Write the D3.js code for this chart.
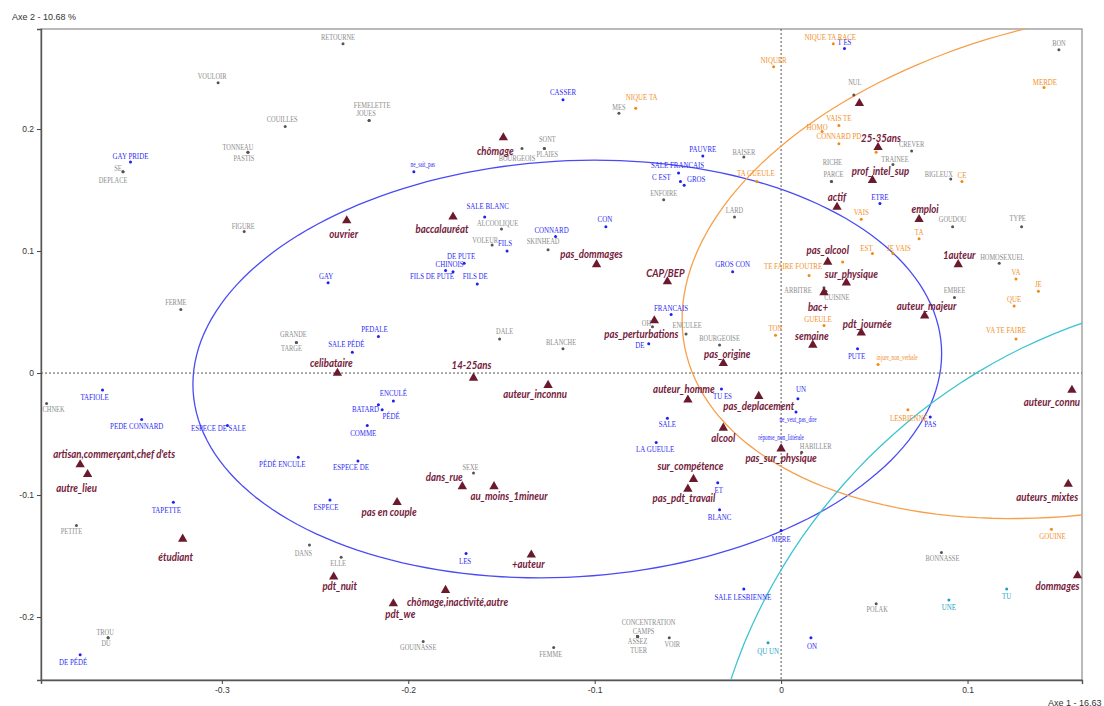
<!DOCTYPE html>
<html><head><meta charset="utf-8">
<script src="https://cdn.jsdelivr.net/npm/d3@7"></script>
<style>body{margin:0;background:#fff}svg{display:block}</style>
</head><body><svg id="c" width="1104" height="706"></svg>
<script>
// ---------------- data ----------------
const xTicks = [-0.3, -0.2, -0.1, 0, 0.1];
const yTicks = [-0.2, -0.1, 0, 0.1, 0.2];
const xExtent = [-0.397, 0.1614];
const yExtent = [-0.2516, 0.282];
const axis1Title = "Axe 1  -  16.63 %";
const axis2Title = "Axe 2  -  10.68 %";

const greyWords = [
 ["VOULOIR",-0.302,0.238],["COUILLES",-0.266,0.202],["TONNEAU",-0.286,0.181],["PASTIS",-0.286,0.181],
 ["SE",-0.353,0.165],["DEPLACE",-0.353,0.165],["FIGURE",-0.288,0.116],["RETOURNE",-0.235,0.270],
 ["FEMELETTE",-0.221,0.207],["JOUES",-0.221,0.207],["BOURGEOIS",-0.139,0.184],["SONT",-0.127,0.184],
 ["PLAIES",-0.127,0.184],["ALCOOLIQUE",-0.150,0.118],["VOLEUR",-0.155,0.105],["SKINHEAD",-0.125,0.101],
 ["MES",-0.087,0.213],["BAISER",-0.020,0.177],["ENFOIRE",-0.063,0.142],["LARD",-0.025,0.128],
 ["NUL",0.039,0.228],["CREVER",0.070,0.182],["TRAINEE",0.060,0.171],["RICHE",0.027,0.157],
 ["PARCE",0.027,0.157],["BIGLEUX",0.091,0.159],["GOUDOU",0.092,0.120],["TYPE",0.129,0.120],
 ["BON",0.149,0.265],["HOMOSEXUEL",0.117,0.090],["EMBEE",0.093,0.062],["ARBITRE",0.023,0.070],
 ["CUISINE",0.024,0.067],["FERME",-0.322,0.052],["GRANDE",-0.260,0.025],["TARGE",-0.260,0.025],
 ["DALE",-0.151,0.028],["BLANCHE",-0.117,0.020],["OH",-0.069,0.038],["ENCULEE",-0.051,0.032],
 ["BOURGEOISE",-0.033,0.023],["HABILLER",0.011,-0.065],["CHNEK",-0.394,-0.025],["SEXE",-0.165,-0.082],
 ["PETITE",-0.378,-0.125],["DANS",-0.253,-0.141],["ELLE",-0.236,-0.151],["TROU",-0.361,-0.217],
 ["DU",-0.361,-0.217],["GOUINASSE",-0.192,-0.220],["CONCENTRATION",-0.077,-0.216],["CAMPS",-0.077,-0.216],
 ["ASSEZ",-0.077,-0.216],["TUER",-0.077,-0.216],["VOIR",-0.060,-0.217],["FEMME",-0.122,-0.225],
 ["BONNASSE",0.086,-0.147],["POLAK",0.051,-0.189]
];
const blueWords = [
 ["GAY PRIDE",-0.349,0.173],["CASSER",-0.117,0.224],["ne_sait_pas",-0.197,0.165],["SALE BLANC",-0.159,0.128],
 ["CONNARD",-0.121,0.112],["FILS",-0.147,0.100],["PAUVRE",-0.042,0.178],["SALE FRANCAIS",-0.055,0.164],
 ["C EST",-0.054,0.157],["GROS",-0.052,0.154],["CON",-0.094,0.120],["T ES",0.034,0.266],
 ["ETRE",0.053,0.139],["GROS CON",-0.026,0.083],["FRANCAIS",-0.059,0.048],["DE",-0.071,0.024],
 ["TU ES",-0.032,-0.013],["UN",0.009,-0.021],["ne_veut_pas_dire",0.008,-0.032],["SALE",-0.061,-0.037],
 ["réponse_non_littérale",0.000,-0.060],["LA GUEULE",-0.067,-0.057],["ET",-0.034,-0.090],["BLANC",-0.033,-0.112],
 ["MERE",0.000,-0.129],["SALE LESBIENNE",-0.020,-0.177],["ON",0.016,-0.217],["PUTE",0.041,0.020],
 ["PAS",0.080,-0.036],["TAFIOLE",-0.364,-0.014],["PEDE CONNARD",-0.343,-0.038],["ESPECE DE SALE",-0.297,-0.043],
 ["TAPETTE",-0.326,-0.106],["DE PÉDÉ",-0.376,-0.231],["DE PUTE",-0.170,0.090],["CHINOIS",-0.180,0.084],
 ["FILS DE PUTE",-0.176,0.083],["FILS DE",-0.163,0.073],["GAY",-0.243,0.074],["PEDALE",-0.216,0.030],
 ["SALE PÉDÉ",-0.230,0.017],["ENCULÉ",-0.208,-0.023],["BATARD",-0.216,-0.026],["PÉDÉ",-0.214,-0.030],
 ["COMME",-0.222,-0.043],["PÉDÉ ENCULE",-0.259,-0.069],["ESPECE DE",-0.227,-0.072],["ESPECE",-0.242,-0.104],
 ["LES",-0.169,-0.148]
];
const orangeWords = [
 ["NIQUE TA",-0.078,0.217],["NIQUER",-0.004,0.251],["NIQUE TA RACE",0.028,0.270],["VAIS TE",0.031,0.203],
 ["HOMO",0.022,0.198],["CONNARD PD",0.031,0.188],["TA GUEULE",-0.013,0.157],["CE",0.097,0.157],
 ["VAIS",0.043,0.126],["TA",0.074,0.110],["MERDE",0.141,0.234],["",0.051,0.181],["",0.033,0.091],
 ["EST",0.049,0.098],["JE VAIS",0.060,0.098],["TE FAIRE FOUTRE",0.015,0.080],["GUEULE",0.023,0.039],
 ["TON",-0.003,0.031],["VA",0.126,0.077],["JE",0.138,0.067],["QUE",0.125,0.055],["VA TE FAIRE",0.126,0.028],
 ["injure_non_verbale",0.052,0.007],["LESBIENNE",0.068,-0.030],["GOUINE",0.145,-0.128]
];
const cyanWords = [["QU UN",-0.007,-0.221],["UNE",0.090,-0.186],["TU",0.121,-0.177]];
const modalities = [
 ["chômage",-0.149,0.193],["ouvrier",-0.233,0.125],["baccalauréat",-0.176,0.128],["",0.042,0.221],
 ["25-35ans",0.052,0.185],["prof_intel_sup",0.049,0.158],["actif",0.030,0.136],["emploi",0.074,0.126],
 ["pas_dommages",-0.099,0.089],["CAP/BEP",-0.061,0.075],["pas_alcool",0.025,0.091],["sur_physique",0.035,0.074],
 ["bac+",0.023,0.066],["semaine",0.017,0.023],["pas_perturbations",-0.068,0.043],["pas_origine",-0.031,0.008],
 ["auteur_homme",-0.050,-0.022],["pas_deplacement",-0.012,-0.019],["alcool",-0.031,-0.045],["pas_sur_physique",0.000,-0.062],
 ["sur_compétence",-0.047,-0.087],["pas_pdt_travail",-0.050,-0.095],["1auteur",0.095,0.089],["auteur_majeur",0.077,0.047],
 ["pdt_journée",0.043,0.033],["auteur_connu",0.156,-0.014],["auteurs_mixtes",0.154,-0.091],["dommages",0.159,-0.166],
 ["celibataire",-0.238,0.000],["14-25ans",-0.165,-0.004],["auteur_inconnu",-0.125,-0.010],
 ["artisan,commerçant,chef d'ets",-0.376,-0.075],["autre_lieu",-0.372,-0.083],["étudiant",-0.321,-0.136],
 ["dans_rue",-0.171,-0.093],["au_moins_1mineur",-0.154,-0.093],["pas en couple",-0.206,-0.106],["+auteur",-0.134,-0.149],
 ["pdt_nuit",-0.240,-0.167],["chômage,inactivité,autre",-0.180,-0.178],["pdt_we",-0.208,-0.189]
];
// ellipses: centre and two conjugate half-axes (data units)
const blueEllipse = {c:[-0.1147,0.0033], u:[0.2007,0.0182], v:[0.0066,-0.1702]};
const orangeEllipse = {c:[0.1740,0.0903], u:[0.2257,0.0690], v:[0.0254,-0.1979]};
const cyanEllipse = {c:[0.2097,-0.3189], u:[0.1895,0.2898], v:[0.1630,-0.2492]};

// ---------------- layout (label nudges in px) ----------------
const nudge = {
 "VOULOIR":[-6,-6],"COUILLES":[-3,-7],"TONNEAU":[-10,-5],"PASTIS":[-4,6],"SE":[-5,-4],"DEPLACE":[-10,8],
 "FIGURE":[-1,-5],"RETOURNE":[-5,-6],"FEMELETTE":[3,-15],"JOUES":[-3,-7],"BOURGEOIS":[-5,10],"SONT":[3,-9],
 "PLAIES":[3,6],"ALCOOLIQUE":[-4,-6],"VOLEUR":[-7,-5],"SKINHEAD":[-5,-9],"MES":[0,-6],"BAISER":[0,-5],
 "NUL":[1,-13],"TRAINEE":[2,-5],"RICHE":[1,-19],"PARCE":[2,-7],"BIGLEUX":[-12,-5],"TYPE":[-4,-8],
 "HOMOSEXUEL":[3,-6],"ARBITRE":[-26,3],"CUISINE":[11,6],"FERME":[-5,-7],"GRANDE":[-3,-8],"TARGE":[-5,6],
 "DALE":[5,-8],"BLANCHE":[-2,-6],"OH":[-6,-3],"ENCULEE":[1,-9],"HABILLER":[14,-6],"CHNEK":[7,6],"SEXE":[-3,-6],
 "PETITE":[-5,6],"DANS":[-6,8],"ELLE":[-3,6],"TROU":[-3,-6],"DU":[-2,5],"GOUINASSE":[-5,6],
 "CONCENTRATION":[11,-14],"CAMPS":[6,-5],"ASSEZ":[0,5],"TUER":[1,14],"VOIR":[3,6],"FEMME":[-3,7],
 "BONNASSE":[1,6],"POLAK":[1,6],
 "CASSER":[0,-8],"ne_sait_pas":[9,-7],"SALE BLANC":[3,-11],"CONNARD":[-4,-7],"FILS":[-2,-8],"SALE FRANCAIS":[-1,-8],
 "C EST":[-19,-5],"GROS":[12,-6],"CON":[-1,-8],"GROS CON":[0,-8],"DE":[-9,1],"TU ES":[1,7],"UN":[3,-10],
 "ne_veut_pas_dire":[2,7],"SALE":[0,6],"réponse_non_littérale":[0,-9],"LA GUEULE":[-1,6],"ET":[1,7],"BLANC":[0,7],
 "MERE":[0,8],"SALE LESBIENNE":[-1,8],"ON":[1,8],"PUTE":[-1,7],"PAS":[0,7],"TAFIOLE":[-8,7],"PEDE CONNARD":[-5,6],
 "ESPECE DE SALE":[-9,2],"TAPETTE":[-7,7],"DE PÉDÉ":[-7,7],"DE PUTE":[-3,-7],"CHINOIS":[4,-7],"FILS DE PUTE":[-21,4],
 "FILS DE":[-2,-8],"GAY":[-2,-7],"PEDALE":[-4,-8],"SALE PÉDÉ":[-6,-8],"ENCULÉ":[0,-8],"BATARD":[-13,4],"PÉDÉ":[9,6],
 "COMME":[-4,7],"PÉDÉ ENCULE":[-16,7],"ESPECE DE":[-7,6],"ESPECE":[-4,7],"LES":[-1,7],"GAY PRIDE":[0,-6],
 "NIQUE TA":[6,-11],"NIQUE TA RACE":[-3,-7],"VAIS TE":[0,-8],"HOMO":[-5,-5],"CONNARD PD":[0,-8],"TA GUEULE":[-1,-9],
 "EST":[-6,-6],"JE VAIS":[6,-6],"TE FAIRE FOUTRE":[-16,-10],"GUEULE":[-6,-7],"VA TE FAIRE":[-10,-9],
 "injure_non_verbale":[19,-7],"LESBIENNE":[1,8],"GOUINE":[1,7],"MERDE":[1,-6],
 "QU UN":[0,8],"UNE":[0,7],"TU":[0,7],
 "chômage":[-8,13],"ouvrier":[-3,13],"baccalauréat":[-11,12],"25-35ans":[3,-9],"prof_intel_sup":[8,-9],"emploi":[6,-10],
 "pas_dommages":[-5,-10],"CAP/BEP":[-2,-9],"pas_alcool":[0,-12],"sur_physique":[5,-9],"bac+":[-6,14],"semaine":[-1,-9],
 "pas_perturbations":[-13,13],"pas_origine":[4,-9],"auteur_homme":[-4,-11],"pas_deplacement":[0,10],"alcool":[0,10],
 "pas_sur_physique":[0,9],"sur_compétence":[-3,-13],"pas_pdt_travail":[-4,9],"1auteur":[1,-9],"auteur_majeur":[2,-10],
 "pdt_journée":[6,-9],"auteur_connu":[-20,12],"auteurs_mixtes":[-21,13],"dommages":[-20,10],"celibataire":[-6,-10],
 "14-25ans":[-2,-13],"auteur_inconnu":[-13,9],"artisan,commerçant,chef d'ets":[34,-11],"autre_lieu":[-11,14],
 "étudiant":[-7,18],"dans_rue":[-18,-10],"au_moins_1mineur":[15,9],"pas en couple":[-8,10],"+auteur":[-3,9],
 "pdt_nuit":[6,9],"chômage,inactivité,autre":[12,12],"pdt_we":[7,10]
};

// ---------------- drawing ----------------
const L = 41, T = 29, R = 1082, B = 680;
const svg = d3.select("#c");
const x = d3.scaleLinear().domain(xExtent).range([L, R]);
const y = d3.scaleLinear().domain(yExtent).range([B, T]);

svg.append("clipPath").attr("id","clip").append("rect")
  .attr("x",L).attr("y",T).attr("width",R-L).attr("height",B-T);

// frame
svg.append("rect").attr("x",L).attr("y",T).attr("width",R-L).attr("height",B-T)
  .attr("fill","none").attr("stroke","#8c8c8c").attr("stroke-width",1.2);

// axes
const fmt = d => d === 0 ? "0" : d.toFixed(1);
const gx = svg.append("g").attr("transform",`translate(0,${B})`)
  .call(d3.axisBottom(x).tickValues(xTicks).tickSize(4).tickPadding(3).tickFormat(fmt));
const gy = svg.append("g").attr("transform",`translate(${L},0)`)
  .call(d3.axisLeft(y).tickValues(yTicks).tickSize(4).tickPadding(3).tickFormat(fmt));
[gx, gy].forEach(g => {
  g.select(".domain").attr("stroke","#555").attr("stroke-width",1.4);
  g.selectAll(".tick line").attr("stroke","#444");
  g.selectAll(".tick text").attr("font-family","Liberation Sans, Arial, sans-serif")
    .attr("font-size",8.5).attr("fill","#333");
});

svg.append("text").attr("x",12).attr("y",20).text(axis2Title)
  .attr("font-family","Liberation Sans, Arial, sans-serif").attr("font-size",9).attr("fill","#333");
svg.append("text").attr("x",1048).attr("y",706).text(axis1Title)
  .attr("font-family","Liberation Sans, Arial, sans-serif").attr("font-size",9).attr("fill","#333");

const plot = svg.append("g").attr("clip-path","url(#clip)");

// zero lines
plot.append("line").attr("x1",x(0)).attr("x2",x(0)).attr("y1",T).attr("y2",B)
  .attr("stroke","#555").attr("stroke-dasharray","2,2").attr("stroke-width",1);
plot.append("line").attr("x1",L).attr("x2",R).attr("y1",y(0)).attr("y2",y(0))
  .attr("stroke","#555").attr("stroke-dasharray","2,2").attr("stroke-width",1);

// ellipses
const ts = d3.range(0, 361, 2).map(d => d * Math.PI / 180);
const eline = d3.line().x(p => x(p[0])).y(p => y(p[1])).curve(d3.curveLinearClosed);
function ellipsePts(e) {
  return ts.map(t => [e.c[0] + e.u[0]*Math.cos(t) + e.v[0]*Math.sin(t),
                      e.c[1] + e.u[1]*Math.cos(t) + e.v[1]*Math.sin(t)]);
}
[[blueEllipse,"#4b4bf5"],[orangeEllipse,"#f6a04a"],[cyanEllipse,"#3ec3d2"]].forEach(([e,col]) => {
  plot.append("path").attr("d", eline(ellipsePts(e))).attr("fill","none")
    .attr("stroke",col).attr("stroke-width",1.3);
});

const smallLabels = new Set(["ne_sait_pas","ne_veut_pas_dire","réponse_non_littérale","injure_non_verbale"]);

function drawWords(data, dotCol, txtCol, size, family, sx, defDy) {
  const g = plot.append("g");
  g.selectAll("circle").data(data).join("circle")
    .attr("cx", d => x(d[1])).attr("cy", d => y(d[2])).attr("r",1.5).attr("fill",dotCol);
  g.selectAll("text").data(data.filter(d => d[0] !== "")).join("text")
    .attr("transform", d => {
      const n = nudge[d[0]] || [0, defDy];
      const s = smallLabels.has(d[0]) ? sx*0.95 : sx;
      return `translate(${x(d[1])+n[0]},${y(d[2])+n[1]}) scale(${s},1)`;
    })
    .attr("text-anchor","middle").attr("dy","0.35em")
    .attr("font-family", family)
    .attr("font-size", d => smallLabels.has(d[0]) ? size*0.8 : size)
    .attr("fill", txtCol).text(d => d[0]);
}
const serif = "Liberation Serif, Times New Roman, serif";
drawWords(greyWords, "#555", "#8a8a8a", 8, serif, 0.8, -7);
drawWords(blueWords, "#1f1ff0", "#2c2cf2", 9, serif, 0.77, -7);
drawWords(orangeWords, "#f08a14", "#f2901f", 9, serif, 0.77, -7);
drawWords(cyanWords, "#1aa0c4", "#1ea6c6", 9, serif, 0.77, 7);

// modalities (triangles)
const tri = d3.symbol().type(d3.symbolTriangle).size(38);
const gm = plot.append("g");
gm.selectAll("path").data(modalities).join("path")
  .attr("d", tri).attr("transform", d => `translate(${x(d[1])},${y(d[2])})`).attr("fill","#6b1a2e");
gm.selectAll("text").data(modalities.filter(d => d[0] !== "")).join("text")
  .attr("transform", d => {
    const n = nudge[d[0]] || [0,-10];
    return `translate(${x(d[1])+n[0]},${y(d[2])+n[1]}) scale(0.84,1)`;
  })
  .attr("text-anchor","middle").attr("dy","0.35em")
  .attr("font-family","Lato, Open Sans, sans-serif").attr("font-weight","bold").attr("font-style","italic")
  .attr("font-size",11.5).attr("fill","#74203a").text(d => d[0]);
</script></body></html>
